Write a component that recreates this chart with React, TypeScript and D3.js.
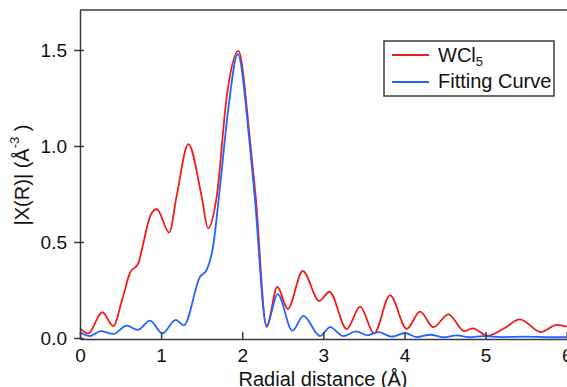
import React, { useRef, useEffect } from 'react';
import * as d3 from 'd3';

// red: measured WCl5 spectrum, blue: fit
const redX = [0, 0.1, 0.275, 0.41, 0.52, 0.617, 0.72, 0.78, 0.863, 0.945, 1.1, 1.19, 1.336, 1.5, 1.58, 1.685, 1.809, 1.952, 2.096, 2.166, 2.3, 2.433, 2.561, 2.746, 2.95, 3.075, 3.288, 3.453, 3.625, 3.822, 4.028, 4.192, 4.357, 4.541, 4.739, 4.842, 5.02, 5.22, 5.425, 5.68, 5.88, 6.0];
const redY = [0.05, 0.024, 0.134, 0.0625, 0.2, 0.34, 0.39, 0.493, 0.632, 0.672, 0.55, 0.736, 1.01, 0.736, 0.571, 0.736, 1.257, 1.495, 1.03, 0.736, 0.058, 0.267, 0.151, 0.349, 0.193, 0.241, 0.047, 0.163, 0.024, 0.222, 0.048, 0.137, 0.056, 0.123, 0.036, 0.05, 0.012, 0.048, 0.097, 0.031, 0.068, 0.059];

const blueX = [0, 0.123, 0.255, 0.41, 0.576, 0.71, 0.863, 1.015, 1.18, 1.28, 1.48, 1.56, 1.64, 1.726, 1.83, 1.945, 2.09, 2.154, 2.3, 2.437, 2.618, 2.754, 2.96, 3.083, 3.246, 3.403, 3.543, 3.679, 3.843, 4.007, 4.15, 4.316, 4.48, 4.645, 4.81, 4.97, 5.2, 5.5, 5.8, 6.0];
const blueY = [0.03, 0.01, 0.036, 0.021, 0.064, 0.042, 0.09, 0.024, 0.094, 0.066, 0.319, 0.354, 0.476, 0.788, 1.2, 1.479, 1.02, 0.736, 0.065, 0.229, 0.038, 0.115, 0.01, 0.057, 0.01, 0.035, 0.014, 0.031, 0.007, 0.026, 0.005, 0.017, 0.004, 0.014, 0.004, 0.01, 0.005, 0.007, 0.004, 0.005];

const xTicks = [0, 1, 2, 3, 4, 5, 6];
const yTicks = [0, 0.5, 1.0, 1.5];

const W = 567;
const H = 387;
const FONT = 'Liberation Sans, Arial, sans-serif';
const AXIS = '#3a3a3a';
const RED = '#f01c1c';
const BLUE = '#2462ff';

const App = () => {
  const svgRef = useRef(null);

  useEffect(() => {
    const svg = d3.select(svgRef.current);

    const xScale = d3.scaleLinear().domain([0, 6]).range([80, 566.7]);
    const yScale = d3.scaleLinear().domain([-1 / 192, 328 / 192]).range([339, 10]);

    const myLine = d3
      .line<[number, number]>()
      .x(d => xScale(d[0]))
      .y(d => yScale(d[1]))
      .curve(d3.curveMonotoneX);

    const redData = redX.map((x, i) => [x, redY[i]] as [number, number]);
    const blueData = blueX.map((x, i) => [x, blueY[i]] as [number, number]);

    svg
      .select('.lines')
      .selectAll('path')
      .data([
        { d: redData, c: RED },
        { d: blueData, c: BLUE }
      ])
      .join('path')
      .attr('d', s => myLine(s.d))
      .attr('fill', 'none')
      .attr('stroke', s => s.c)
      .attr('stroke-width', 1.8);

    const xAxis = d3
      .axisBottom(xScale)
      .tickValues(xTicks)
      .tickSizeInner(-7)
      .tickSizeOuter(0)
      .tickPadding(10)
      .tickFormat(d => String(d));
    const yAxis = d3
      .axisLeft(yScale)
      .tickValues(yTicks)
      .tickSizeInner(6)
      .tickSizeOuter(0)
      .tickPadding(7)
      .tickFormat(d3.format('.1f'));

    const gx = svg
      .select('.x-axis')
      .attr('transform', 'translate(0,339)')
      .call(xAxis as any);
    const gy = svg
      .select('.y-axis')
      .attr('transform', 'translate(80,0)')
      .call(yAxis as any);

    [gx, gy].forEach(g => {
      g.attr('font-family', FONT).attr('font-size', 19);
      g.selectAll('.domain').attr('stroke', AXIS).attr('stroke-width', 1.5);
      g.selectAll('.tick line').attr('stroke', AXIS).attr('stroke-width', 1.5);
      g.selectAll('.tick text').attr('fill', '#111');
    });
    // y ticks cross the axis line
    gy.selectAll('.tick line').attr('x1', 4);
  }, []);

  return (
    <svg
      ref={svgRef}
      width={W}
      height={H}
      style={{ position: 'absolute', left: 0, top: 0, background: '#fff' }}
    >
      <line x1={80} x2={W} y1={10} y2={10} stroke={AXIS} strokeWidth={1.5} />
      <g className="lines" />
      <g className="x-axis" />
      <g className="y-axis" />
      <text x={323} y={386} textAnchor="middle" fontFamily={FONT} fontSize={20} fill="#111">
        Radial distance (Å)
      </text>
      <text
        transform="translate(29,175) rotate(-90)"
        textAnchor="middle"
        fontFamily={FONT}
        fontSize={20}
        fill="#111"
      >
        |X(R)| (Å
        <tspan fontSize={13} dy={-10}>-3</tspan>
        <tspan dy={10}> )</tspan>
      </text>
      <g fontFamily={FONT} fontSize={20} fill="#111">
        <rect x={384} y={41} width={170} height={55} fill="#fff" stroke={AXIS} strokeWidth={1.5} />
        <line x1={392} x2={429} y1={55} y2={55} stroke={RED} strokeWidth={1.8} />
        <line x1={392} x2={429} y1={82} y2={82} stroke={BLUE} strokeWidth={1.8} />
        <text x={438} y={62}>
          WCl<tspan fontSize={13} dy={4}>5</tspan>
        </text>
        <text x={438} y={88}>Fitting Curve</text>
      </g>
    </svg>
  );
};

export default App;
